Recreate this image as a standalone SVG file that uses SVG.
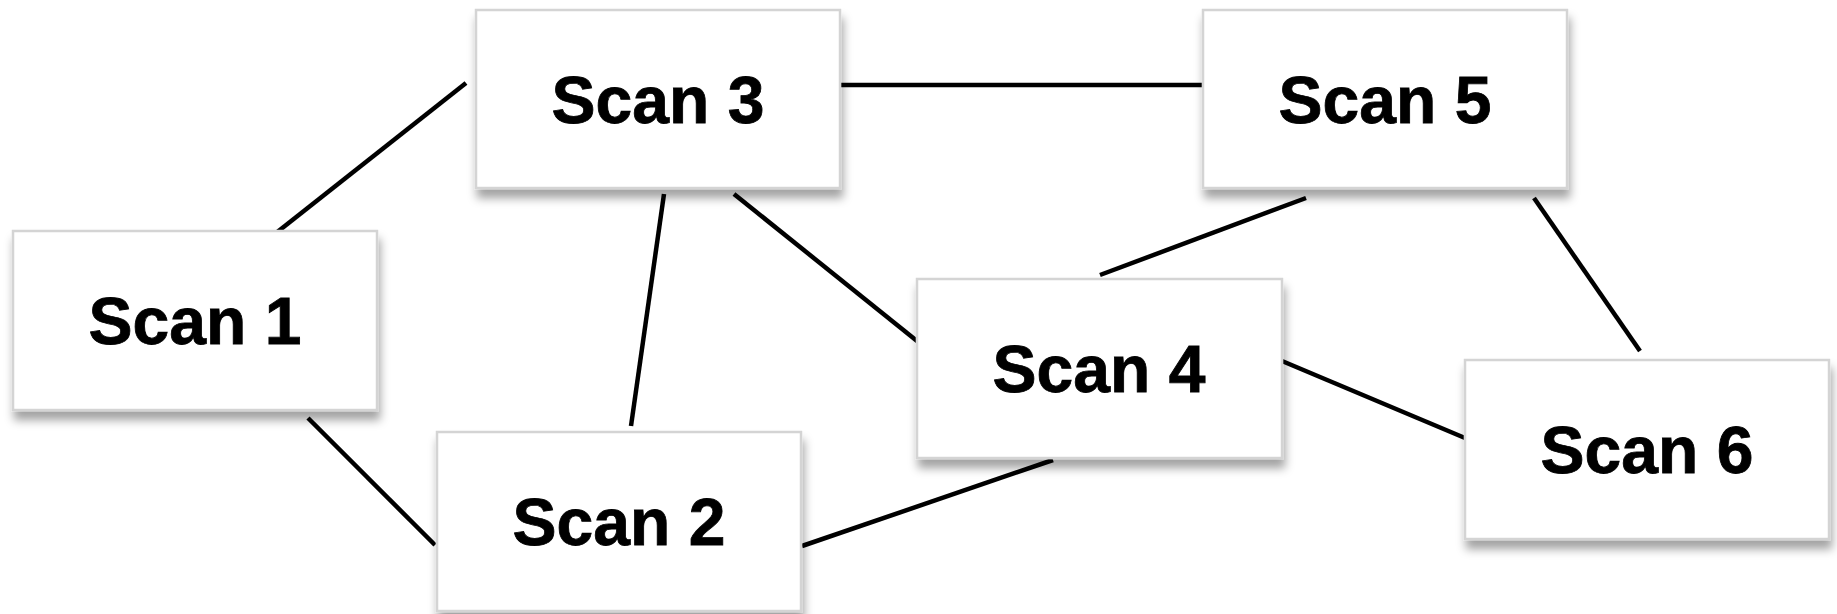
<svg xmlns="http://www.w3.org/2000/svg" width="1837" height="614" viewBox="0 0 1837 614">
<defs>
<filter id="sh" x="-10%" y="-10%" width="125%" height="135%">
<feDropShadow dx="2" dy="9" stdDeviation="5" flood-color="#000" flood-opacity="0.36"/>
</filter>
</defs>
<style>
.box{fill:#fff;stroke:#d4d4d4;stroke-width:2.5;filter:url(#sh)}
.lbl{font-family:"Liberation Sans",Arial,sans-serif;font-weight:bold;font-size:66px;fill:#000;text-anchor:middle;stroke:#000;stroke-width:0.8}
.e{stroke:#000;stroke-width:4.5;fill:none}
</style>
<rect width="1837" height="614" fill="#fff"/>
<g id="connectors">
<line class="e" x1="276" y1="233" x2="466" y2="83"/>
<line class="e" x1="840" y1="85" x2="1205" y2="85"/>
<line class="e" x1="664" y1="194" x2="631" y2="426"/>
<line class="e" x1="734" y1="194" x2="922" y2="345"/>
<line class="e" x1="308" y1="418" x2="435" y2="545"/>
<line class="e" x1="802" y1="546" x2="1053" y2="460"/>
<line class="e" x1="1100" y1="275" x2="1306" y2="198"/>
<line class="e" x1="1534" y1="198" x2="1640" y2="351"/>
<line class="e" x1="1282" y1="361" x2="1465" y2="438"/>
</g>
<g id="scan1"><rect class="box" x="13" y="231" width="364" height="179"/><text class="lbl" x="195" y="344">Scan 1</text></g>
<g id="scan2"><rect class="box" x="437" y="432" width="364" height="179"/><text class="lbl" x="619" y="545">Scan 2</text></g>
<g id="scan3"><rect class="box" x="476" y="10" width="364" height="178"/><text class="lbl" x="658" y="123">Scan 3</text></g>
<g id="scan4"><rect class="box" x="917" y="279" width="365" height="179"/><text class="lbl" x="1099" y="392">Scan 4</text></g>
<g id="scan5"><rect class="box" x="1203" y="10" width="364" height="178"/><text class="lbl" x="1385" y="123">Scan 5</text></g>
<g id="scan6"><rect class="box" x="1465" y="360" width="364" height="179"/><text class="lbl" x="1647" y="473">Scan 6</text></g>
</svg>
